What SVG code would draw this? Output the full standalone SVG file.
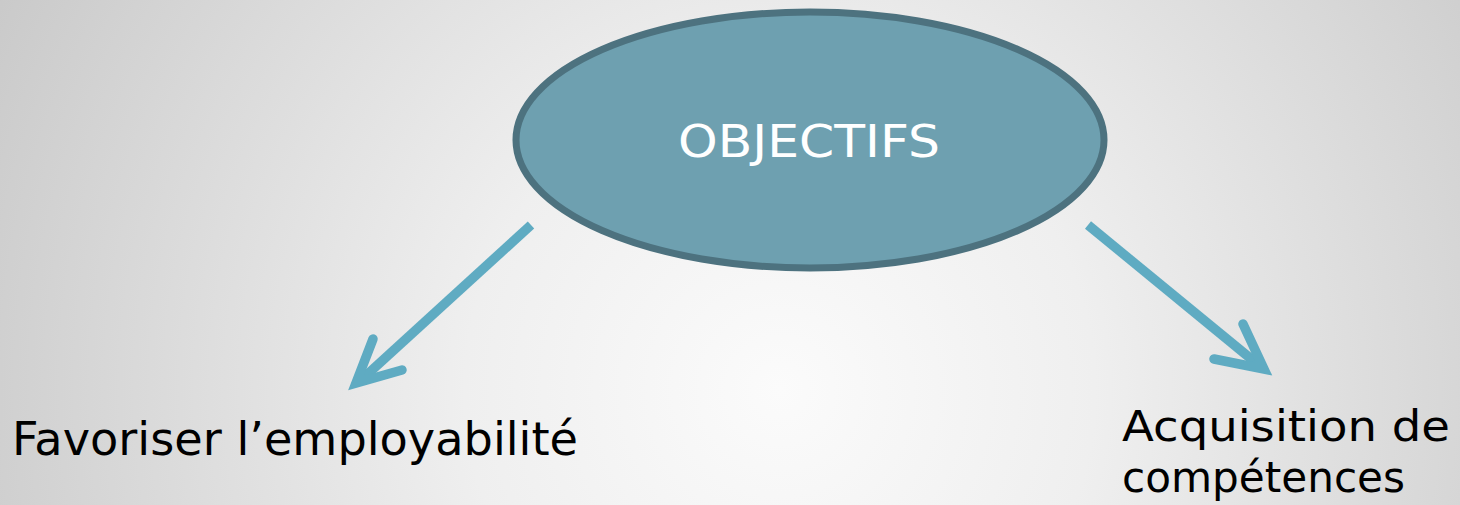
<svg xmlns="http://www.w3.org/2000/svg" width="1460" height="505" viewBox="0 0 1460 505">
<defs>
<radialGradient id="bg" cx="780" cy="390" r="900" gradientUnits="userSpaceOnUse">
<stop offset="0" stop-color="#fbfbfb"/>
<stop offset="0.35" stop-color="#efefef"/>
<stop offset="1" stop-color="#c8c8c8"/>
</radialGradient>
<style>
.arrow{fill:none;stroke:#5fabc2;stroke-width:9.5;stroke-linecap:round;stroke-linejoin:miter;stroke-miterlimit:10}
.shaft{fill:none;stroke:#5fabc2;stroke-width:9.5;stroke-linecap:butt}
.lbl{font-family:"DejaVu Sans","Liberation Sans",sans-serif;fill:#000}
</style>
</defs>
<rect width="1460" height="505" fill="url(#bg)"/>
<g id="connectors">
<line class="shaft" x1="531" y1="225" x2="360" y2="381"/>
<polyline class="arrow" points="373,339 356,383 402,370"/>
<line class="shaft" x1="1088" y1="225" x2="1261" y2="367"/>
<polyline class="arrow" points="1243,324 1264,369 1214,359"/>
</g>
<g id="objectifs">
<ellipse cx="810" cy="140" rx="294" ry="128" fill="#6ea0b0" stroke="#4d727f" stroke-width="7"/>
<text x="809" y="157" text-anchor="middle" font-family="DejaVu Sans, Liberation Sans, sans-serif" font-size="44" fill="#ffffff" textLength="262" lengthAdjust="spacingAndGlyphs">OBJECTIFS</text>
</g>
<g id="employabilite">
<text class="lbl" x="12" y="455" font-size="47" textLength="566" lengthAdjust="spacingAndGlyphs">Favoriser l’employabilité</text>
</g>
<g id="competences">
<text class="lbl" font-size="43"><tspan x="1122" y="441" textLength="328" lengthAdjust="spacingAndGlyphs">Acquisition de</tspan><tspan x="1122" y="492" textLength="283" lengthAdjust="spacingAndGlyphs">compétences</tspan></text>
</g>
</svg>
